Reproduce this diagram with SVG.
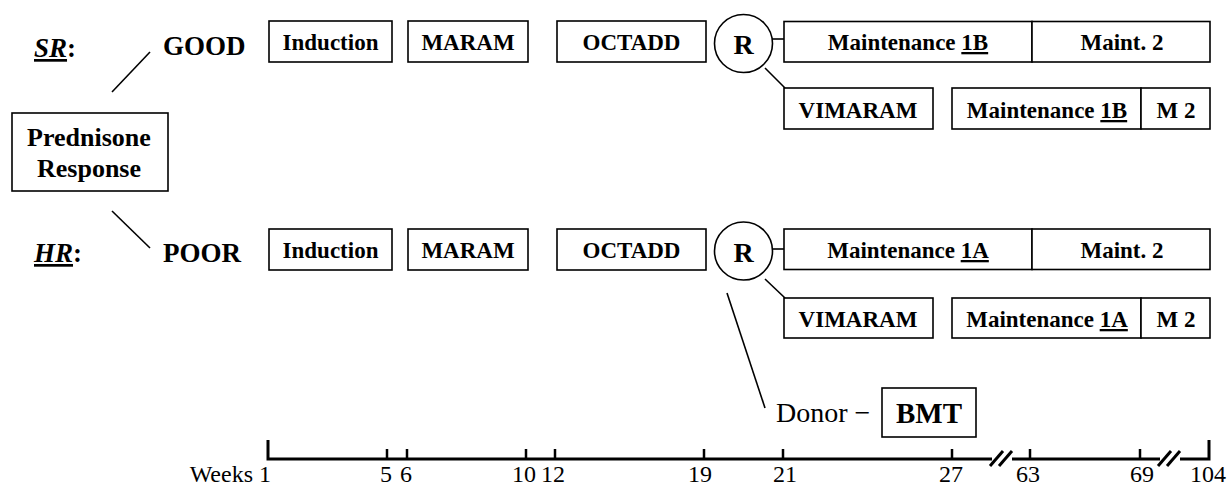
<svg xmlns="http://www.w3.org/2000/svg" width="1229" height="488" viewBox="0 0 1229 488">
<style>
  text { font-family: "Liberation Serif", Tinos, "Times New Roman", "DejaVu Serif", serif; fill: #000; }
  .box { fill: #fff; stroke: #000; stroke-width: 1.6; }
  .lbl { font-weight: bold; font-size: 23px; text-anchor: middle; }
  .pred { font-weight: bold; font-size: 26px; text-anchor: middle; }
  .rr { font-weight: bold; font-size: 28px; text-anchor: middle; }
  .bmt { font-weight: bold; font-size: 29px; text-anchor: middle; }
  .big { font-weight: bold; font-size: 27px; }
  .reg { font-size: 24px; }
  .donor { font-size: 28px; }
  .num { font-size: 24px; text-anchor: middle; }
  .conn { stroke: #000; stroke-width: 1.6; fill: none; }
  .axis { stroke: #000; stroke-width: 3; fill: none; }
  .tick { stroke: #000; stroke-width: 2.5; fill: none; }
  .u { text-decoration: underline; }
  .it { font-style: italic; }
</style>

<!-- Left labels -->
<g id="sr-label">
  <text class="big" x="34" y="57"><tspan class="it u">SR</tspan>:</text>
</g>
<g id="hr-label">
  <text class="big" x="34" y="262"><tspan class="it u">HR</tspan>:</text>
</g>
<g id="good">
  <text class="big" x="163" y="55">GOOD</text>
</g>
<g id="poor">
  <text class="big" x="163" y="262">POOR</text>
</g>
<g id="prednisone">
  <rect class="box" x="12" y="113" width="156" height="78"/>
  <text class="pred" x="89" y="146">Prednisone</text>
  <text class="pred" x="89" y="177">Response</text>
</g>

<!-- SR row -->
<g id="sr-induction">
  <rect class="box" x="269" y="21" width="123" height="41"/>
  <text class="lbl" x="330.5" y="50">Induction</text>
</g>
<g id="sr-maram">
  <rect class="box" x="408" y="21" width="120" height="41"/>
  <text class="lbl" x="468" y="50">MARAM</text>
</g>
<g id="sr-octadd">
  <rect class="box" x="557" y="21" width="149" height="41"/>
  <text class="lbl" x="631.5" y="50">OCTADD</text>
</g>
<g id="sr-r">
  <circle class="box" cx="743.5" cy="43.5" r="29"/>
  <text class="rr" x="743.5" y="54">R</text>
</g>
<g id="sr-maint1b">
  <rect class="box" x="784" y="21.5" width="248" height="40.5"/>
  <text class="lbl" x="908" y="50">Maintenance <tspan class="u">1B</tspan></text>
</g>
<g id="sr-maint2">
  <rect class="box" x="1032" y="21.5" width="178" height="40.5"/>
  <text class="lbl" x="1122" y="50">Maint. 2</text>
</g>
<g id="sr-vimaram">
  <rect class="box" x="784" y="88" width="149" height="41"/>
  <text class="lbl" x="858" y="118">VIMARAM</text>
</g>
<g id="sr-maint1b-b">
  <rect class="box" x="952" y="88" width="189" height="41"/>
  <text class="lbl" x="1047" y="118">Maintenance <tspan class="u">1B</tspan></text>
</g>
<g id="sr-m2">
  <rect class="box" x="1141" y="88" width="69" height="41"/>
  <text class="lbl" x="1176" y="118">M 2</text>
</g>

<!-- HR row -->
<g id="hr-induction">
  <rect class="box" x="269" y="229" width="123" height="41"/>
  <text class="lbl" x="330.5" y="258">Induction</text>
</g>
<g id="hr-maram">
  <rect class="box" x="408" y="229" width="120" height="41"/>
  <text class="lbl" x="468" y="258">MARAM</text>
</g>
<g id="hr-octadd">
  <rect class="box" x="557" y="229" width="149" height="41"/>
  <text class="lbl" x="631.5" y="258">OCTADD</text>
</g>
<g id="hr-r">
  <circle class="box" cx="743.5" cy="251" r="29"/>
  <text class="rr" x="743.5" y="262">R</text>
</g>
<g id="hr-maint1a">
  <rect class="box" x="784" y="229" width="248" height="40.5"/>
  <text class="lbl" x="908" y="258">Maintenance <tspan class="u">1A</tspan></text>
</g>
<g id="hr-maint2">
  <rect class="box" x="1032" y="229" width="178" height="40.5"/>
  <text class="lbl" x="1122" y="258">Maint. 2</text>
</g>
<g id="hr-vimaram">
  <rect class="box" x="784" y="298" width="149" height="40"/>
  <text class="lbl" x="858" y="327">VIMARAM</text>
</g>
<g id="hr-maint1a-b">
  <rect class="box" x="952" y="298" width="189" height="40"/>
  <text class="lbl" x="1047" y="327">Maintenance <tspan class="u">1A</tspan></text>
</g>
<g id="hr-m2">
  <rect class="box" x="1141" y="298" width="69" height="40"/>
  <text class="lbl" x="1176" y="327">M 2</text>
</g>

<!-- Donor / BMT -->
<g id="donor">
  <text class="donor" x="776" y="422">Donor −</text>
</g>
<g id="bmt">
  <rect class="box" x="882" y="388" width="94" height="49"/>
  <text class="bmt" x="929" y="423">BMT</text>
</g>

<!-- Connectors -->
<g id="connectors">
  <line class="conn" x1="112" y1="92" x2="150" y2="52"/>
  <line class="conn" x1="112" y1="211" x2="150" y2="248"/>
  <line class="conn" x1="772" y1="39" x2="784" y2="39"/>
  <line class="conn" x1="765" y1="68" x2="785" y2="88"/>
  <line class="conn" x1="772" y1="249" x2="784" y2="249"/>
  <line class="conn" x1="765" y1="279" x2="785" y2="298"/>
  <line class="conn" x1="727" y1="293" x2="765" y2="408"/>
</g>

<!-- Time axis -->
<g id="axis">
  <polyline class="axis" points="268,440 268,459 992,459"/>
  <line class="axis" x1="990" y1="466" x2="1003" y2="451"/>
  <line class="axis" x1="999" y1="466" x2="1012" y2="451"/>
  <line class="axis" x1="1012" y1="459" x2="1160" y2="459"/>
  <line class="axis" x1="1158" y1="466" x2="1171" y2="451"/>
  <line class="axis" x1="1167" y1="466" x2="1180" y2="451"/>
  <polyline class="axis" points="1180,459 1209,459 1209,440"/>
  <g class="tick">
    <line x1="387" y1="449" x2="387" y2="459"/>
    <line x1="407" y1="449" x2="407" y2="459"/>
    <line x1="526" y1="449" x2="526" y2="459"/>
    <line x1="555" y1="449" x2="555" y2="459"/>
    <line x1="704" y1="449" x2="704" y2="459"/>
    <line x1="783" y1="449" x2="783" y2="459"/>
    <line x1="952" y1="449" x2="952" y2="459"/>
    <line x1="1030" y1="449" x2="1030" y2="459"/>
    <line x1="1140" y1="449" x2="1140" y2="459"/>
  </g>
  <text class="reg" x="271" y="482" text-anchor="end">Weeks 1</text>
  <text class="num" x="386" y="482">5</text>
  <text class="num" x="406" y="482">6</text>
  <text class="num" x="524" y="482">10</text>
  <text class="num" x="553" y="482">12</text>
  <text class="num" x="700" y="482">19</text>
  <text class="num" x="785" y="482">21</text>
  <text class="num" x="951" y="482">27</text>
  <text class="num" x="1028" y="482">63</text>
  <text class="num" x="1142" y="482">69</text>
  <text class="num" x="1208" y="482">104</text>
</g>
</svg>
